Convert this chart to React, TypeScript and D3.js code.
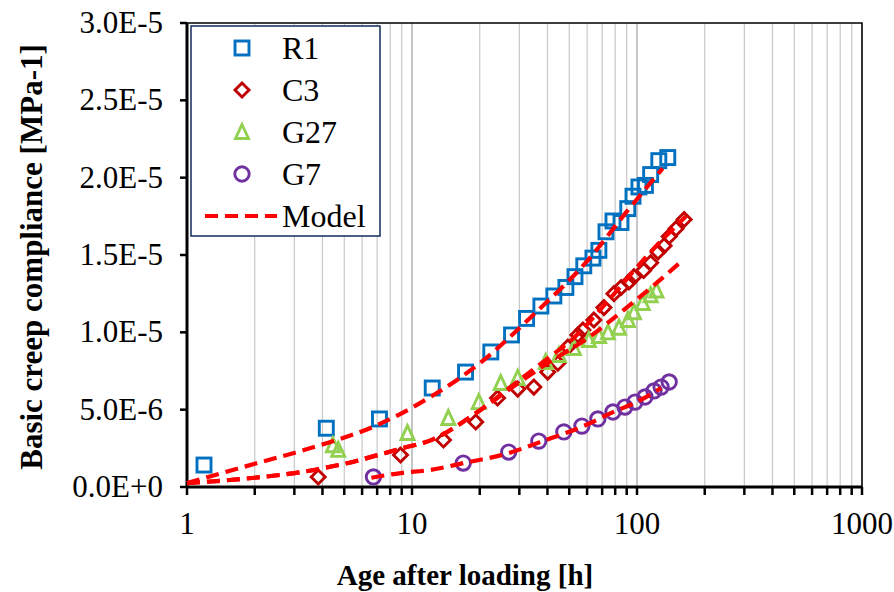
import React from "react";
import * as d3 from "d3";

// Measured basic creep compliance (MPa^-1) against age after loading (h)
const r1Age = [1.19, 4.16, 7.17, 12.3, 17.3, 22.4, 27.7, 32.3, 37.4, 42.7, 48.3, 53, 58, 63.7, 67.7, 72.8, 78.2, 84.9, 91, 96, 102, 109, 115, 125, 137];
const r1J = [1.42e-6, 3.8e-6, 4.4e-6, 6.4e-6, 7.43e-6, 8.73e-6, 9.83e-6, 10.9e-6, 11.7e-6, 12.35e-6, 12.9e-6, 13.6e-6, 14.3e-6, 14.8e-6, 15.3e-6, 16.5e-6, 17.2e-6, 17.1e-6, 18.0e-6, 18.8e-6, 19.4e-6, 19.5e-6, 20.2e-6, 21.1e-6, 21.3e-6];

const c3Age = [3.83, 8.89, 13.8, 19.2, 24.0, 29.5, 34.8, 40.1, 44.5, 49.3, 54.6, 57.5, 64.3, 71.3, 79.0, 85.0, 92.1, 97.0, 107, 115, 124, 132, 139, 149, 162];
const c3J = [0.65e-6, 2.07e-6, 3.04e-6, 4.2e-6, 5.75e-6, 6.33e-6, 6.46e-6, 7.43e-6, 8.0e-6, 9.05e-6, 9.83e-6, 10.15e-6, 10.8e-6, 11.6e-6, 12.5e-6, 12.9e-6, 13.25e-6, 13.6e-6, 14.0e-6, 14.5e-6, 15.2e-6, 15.6e-6, 16.2e-6, 16.7e-6, 17.3e-6];

const g27Age = [4.45, 4.7, 9.55, 14.5, 19.8, 24.8, 29.5, 39.3, 45, 52.4, 61.1, 67.8, 74.3, 83.2, 91.2, 97, 106, 115, 122];
const g27J = [2.7e-6, 2.4e-6, 3.49e-6, 4.46e-6, 5.49e-6, 6.72e-6, 7.05e-6, 8.08e-6, 8.53e-6, 8.99e-6, 9.5e-6, 9.76e-6, 10.0e-6, 10.3e-6, 10.8e-6, 11.3e-6, 11.9e-6, 12.4e-6, 12.7e-6];

const g7Age = [6.74, 16.9, 26.9, 36.6, 47.3, 56.9, 67.0, 78.2, 88.4, 98.0, 108.5, 119, 128, 139];
const g7J = [0.65e-6, 1.55e-6, 2.26e-6, 2.97e-6, 3.56e-6, 3.94e-6, 4.4e-6, 4.85e-6, 5.17e-6, 5.49e-6, 5.82e-6, 6.21e-6, 6.46e-6, 6.79e-6];

// Model curves
const r1ModelAge = [1, 2, 4, 7, 12, 20, 35, 60, 90, 130];
const r1ModelJ = [0.26e-6, 1.5e-6, 2.75e-6, 4.0e-6, 5.8e-6, 8.0e-6, 11.2e-6, 14.6e-6, 17.8e-6, 20.6e-6];
const c3ModelAge = [1, 2, 3, 5, 9, 12, 20, 27, 40, 52, 76, 115, 165];
const c3ModelJ = [0.25e-6, 0.6e-6, 0.9e-6, 1.5e-6, 2.5e-6, 3.0e-6, 4.95e-6, 6.4e-6, 8.3e-6, 9.6e-6, 12.2e-6, 15.2e-6, 17.5e-6];
const g27ModelAge = [1, 2, 3, 5, 9, 12, 20, 27, 40, 60, 90, 120, 155];
const g27ModelJ = [0.25e-6, 0.6e-6, 0.9e-6, 1.5e-6, 2.5e-6, 3.0e-6, 4.95e-6, 6.3e-6, 8.0e-6, 9.6e-6, 11.6e-6, 13.1e-6, 14.5e-6];
const g7ModelAge = [6.6, 8.9, 12, 17, 27, 37, 57, 80, 100, 128];
const g7ModelJ = [0.6e-6, 0.9e-6, 1.1e-6, 1.55e-6, 2.2e-6, 2.9e-6, 3.9e-6, 4.9e-6, 5.5e-6, 6.4e-6];

const yTicks = [0, 5e-6, 1e-5, 1.5e-5, 2e-5, 2.5e-5, 3e-5];
const yTickLabels = ["0.0E+0", "5.0E-6", "1.0E-5", "1.5E-5", "2.0E-5", "2.5E-5", "3.0E-5"];
const xMajor = [1, 10, 100, 1000];
const xTickLabels = ["1", "10", "100", "1000"];

const seriesNames = ["R1", "C3", "G27", "G7"];
const seriesColors = ["#0070C0", "#C00000", "#92D050", "#7030A0"];
const modelColor = "#FF0000";

const W = 894;
const H = 592;
const FONT = "'Liberation Serif', 'Times New Roman', serif";

const x = d3.scaleLog().domain([1, 1000]).range([187, 862]);
const y = d3.scaleLinear().domain([0, 3e-5]).range([487, 23]);

function Marker({ kind, cx, cy, color }: { kind: number; cx: number; cy: number; color: string }) {
  const sw = 2.9;
  if (kind === 0) {
    const s = 14;
    return <rect x={cx - s / 2} y={cy - s / 2} width={s} height={s} fill="none" stroke={color} strokeWidth={sw} />;
  }
  if (kind === 1) {
    const r = 7;
    return <path d={`M${cx},${cy - r}L${cx + r},${cy}L${cx},${cy + r}L${cx - r},${cy}Z`} fill="none" stroke={color} strokeWidth={sw} />;
  }
  if (kind === 2) {
    const h = 13;
    const w = 13;
    return <path d={`M${cx},${cy - h / 2 - 1}L${cx + w / 2},${cy + h / 2}L${cx - w / 2},${cy + h / 2}Z`} fill="none" stroke={color} strokeWidth={sw} />;
  }
  return <circle cx={cx} cy={cy} r={7.2} fill="none" stroke={color} strokeWidth={sw} />;
}

export default function App() {
  const data = [
    { age: r1Age, j: r1J },
    { age: c3Age, j: c3J },
    { age: g27Age, j: g27J },
    { age: g7Age, j: g7J },
  ];
  const models = [
    { age: r1ModelAge, j: r1ModelJ },
    { age: c3ModelAge, j: c3ModelJ },
    { age: g27ModelAge, j: g27ModelJ },
    { age: g7ModelAge, j: g7ModelJ },
  ];
  const line = d3
    .line<[number, number]>()
    .x((d) => x(d[0]))
    .y((d) => y(d[1]))
    .curve(d3.curveMonotoneX);

  // grid positions 1..9 of each decade
  const gridVals: number[] = [];
  for (let dec = 1; dec < 1000; dec *= 10) {
    for (let k = 1; k <= 9; k++) gridVals.push(dec * k);
  }
  gridVals.push(1000);

  const [x0, x1] = x.range();
  const [yb, yt] = y.range();

  return (
    <svg width={W} height={H} style={{ position: "absolute", left: 0, top: 0, background: "#fff" }} fontFamily={FONT}>
      <rect x={0} y={0} width={W} height={H} fill="#fff" />
      {/* vertical gridlines */}
      {gridVals.map((v, i) => (
        <line key={"g" + i} x1={x(v)} x2={x(v)} y1={yt} y2={yb} stroke={xMajor.includes(v) ? "#A0A0A0" : "#C8C8C8"} strokeWidth={1.2} />
      ))}
      {/* frame */}
      <rect x={x0} y={yt} width={x1 - x0} height={yb - yt} fill="none" stroke="#000" strokeWidth={1.5} />
      <line x1={x0} x2={x0} y1={yt} y2={yb + 1} stroke="#000" strokeWidth={3} />
      <line x1={x0 - 1} x2={x1} y1={yb} y2={yb} stroke="#000" strokeWidth={3} />
      {/* x ticks */}
      {gridVals.map((v, i) => (
        <line key={"xt" + i} x1={x(v)} x2={x(v)} y1={yb} y2={yb + 8} stroke="#000" strokeWidth={2.5} />
      ))}
      {xMajor.map((v, i) => (
        <text key={"xl" + i} x={x(v)} y={534} textAnchor="middle" fontSize={31} fill="#000">
          {xTickLabels[i]}
        </text>
      ))}
      {/* y ticks */}
      {yTicks.map((v, i) => (
        <g key={"yt" + i}>
          <line x1={x0 - 7} x2={x0} y1={y(v)} y2={y(v)} stroke="#000" strokeWidth={2.5} />
          <text x={163} y={y(v) + 10} textAnchor="end" fontSize={31} fill="#000">
            {yTickLabels[i]}
          </text>
        </g>
      ))}
      {/* measured points */}
      {data.map((s, si) => (
        <g key={"s" + si}>
          {s.age.map((a, k) => (
            <Marker key={k} kind={si} cx={x(a)} cy={y(s.j[k])} color={seriesColors[si]} />
          ))}
        </g>
      ))}
      {/* model curves */}
      {models.map((m, mi) => (
        <path
          key={"m" + mi}
          d={line(m.age.map((a, k) => [a, m.j[k]] as [number, number])) || ""}
          fill="none"
          stroke={modelColor}
          strokeWidth={4.2}
          strokeDasharray="13 7"
        />
      ))}
      {/* legend */}
      <rect x={191} y={26} width={189} height={210} fill="#fff" stroke="#203864" strokeWidth={1.6} />
      {seriesNames.map((n, i) => (
        <g key={"lg" + i}>
          <Marker kind={i} cx={242} cy={48 + i * 42} color={seriesColors[i]} />
          <text x={282} y={48 + i * 42 + 11} fontSize={32} fill="#000">
            {n}
          </text>
        </g>
      ))}
      <line x1={205} x2={277} y1={216} y2={216} stroke={modelColor} strokeWidth={4.2} strokeDasharray="13 7" />
      <text x={282} y={227} fontSize={32} fill="#000">
        Model
      </text>
      {/* axis titles */}
      <text x={465} y={585} textAnchor="middle" fontSize={29} fontWeight="bold" fill="#000">
        Age after loading [h]
      </text>
      <text transform={`translate(42,257) rotate(-90)`} textAnchor="middle" fontSize={31} fontWeight="bold" fill="#000">
        Basic creep compliance [MPa-1]
      </text>
    </svg>
  );
}
